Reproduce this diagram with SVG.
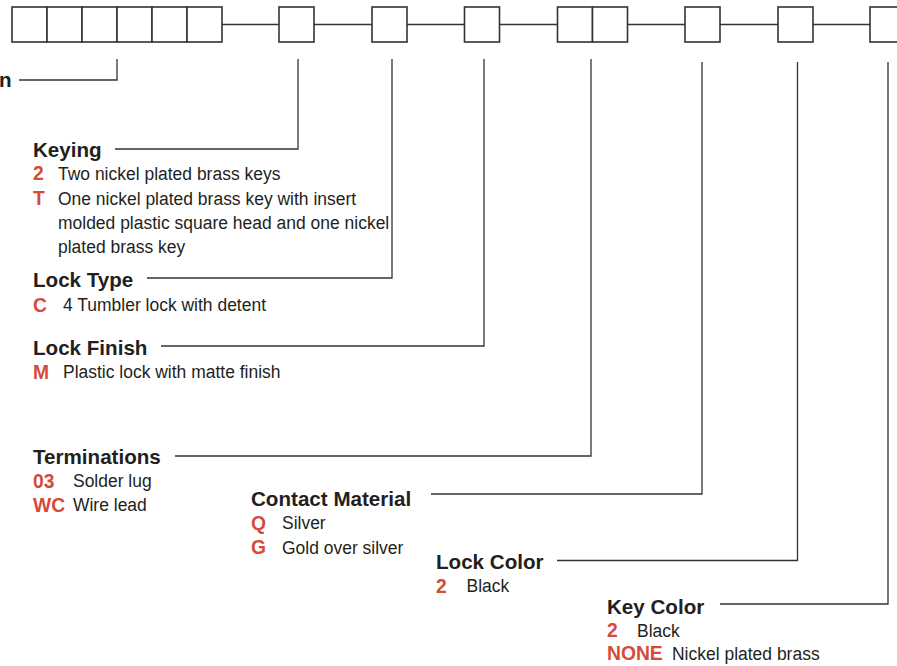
<svg xmlns="http://www.w3.org/2000/svg" width="897" height="666" viewBox="0 0 897 666">
<style>
.box{fill:#fff;stroke:#333;stroke-width:1.6}
.ln{fill:none;stroke:#333;stroke-width:1.3}
.h{font-family:"Liberation Sans",Arial,sans-serif;font-weight:bold;font-size:20.6px;fill:#231f20}
.c{font-family:"Liberation Sans",Arial,sans-serif;font-weight:bold;font-size:19.3px;fill:#d64a3a}
.t{font-family:"Liberation Sans",Arial,sans-serif;font-size:19px;fill:#231f20}
</style>
<rect width="897" height="666" fill="#fff"/>
<g id="connectors">
<path class="ln" d="M222 24.5H279M314 24.5H372M407 24.5H464.5M499.5 24.5H557.5M627 24.5H685M720 24.5H778M813 24.5H870"/>
<path class="ln" d="M117 59V80H19"/>
<path class="ln" d="M298 59V149H115"/>
<path class="ln" d="M392 59V278H147"/>
<path class="ln" d="M484 59V346H161"/>
<path class="ln" d="M591 59V456H175"/>
<path class="ln" d="M702 62V494H431"/>
<path class="ln" d="M797.5 62V560.5H557"/>
<path class="ln" d="M888 62V604H720"/>
</g>
<g id="boxes">
<rect class="box" x="12" y="7" width="35" height="35"/>
<rect class="box" x="47" y="7" width="35" height="35"/>
<rect class="box" x="82" y="7" width="35" height="35"/>
<rect class="box" x="117" y="7" width="35" height="35"/>
<rect class="box" x="152" y="7" width="35" height="35"/>
<rect class="box" x="187" y="7" width="35" height="35"/>
<rect class="box" x="279" y="7" width="35" height="35"/>
<rect class="box" x="372" y="7" width="35" height="35"/>
<rect class="box" x="464.5" y="7" width="35" height="35"/>
<rect class="box" x="557.5" y="7" width="35" height="35"/>
<rect class="box" x="592.5" y="7" width="35" height="35"/>
<rect class="box" x="685" y="7" width="35" height="35"/>
<rect class="box" x="778" y="7" width="35" height="35"/>
<rect class="box" x="870" y="7" width="35" height="35"/>
</g>
<g id="series"><text class="h" x="11.5" y="87" text-anchor="end">n</text></g>
<g id="keying">
<text class="h" x="33" y="157">Keying</text>
<text class="c" x="33" y="180">2</text><text class="t" transform="scale(0.92 1)" x="63.04" y="180">Two nickel plated brass keys</text>
<text class="c" x="33" y="205">T</text><text class="t" transform="scale(0.92 1)" x="63.04" y="205">One nickel plated brass key with insert</text>
<text class="t" transform="scale(0.92 1)" x="63.04" y="229">molded plastic square head and one nickel</text>
<text class="t" transform="scale(0.92 1)" x="63.04" y="253">plated brass key</text>
</g>
<g id="locktype">
<text class="h" x="33" y="287">Lock Type</text>
<text class="c" x="33" y="311.5">C</text><text class="t" transform="scale(0.92 1)" x="68.48" y="311.5">4 Tumbler lock with detent</text>
</g>
<g id="lockfinish">
<text class="h" x="33" y="354.5">Lock Finish</text>
<text class="c" x="33" y="378.5">M</text><text class="t" transform="scale(0.92 1)" x="68.48" y="378.5">Plastic lock with matte finish</text>
</g>
<g id="terminations">
<text class="h" x="33" y="464">Terminations</text>
<text class="c" x="33" y="487.5">03</text><text class="t" transform="scale(0.92 1)" x="79.35" y="487.5">Solder lug</text>
<text class="c" x="33" y="511.5">WC</text><text class="t" transform="scale(0.92 1)" x="79.35" y="511.5">Wire lead</text>
</g>
<g id="contact">
<text class="h" x="251" y="505.5">Contact Material</text>
<text class="c" x="251" y="529.5">Q</text><text class="t" transform="scale(0.92 1)" x="306.52" y="529.5">Silver</text>
<text class="c" x="251" y="554">G</text><text class="t" transform="scale(0.92 1)" x="306.52" y="554">Gold over silver</text>
</g>
<g id="lockcolor">
<text class="h" x="436" y="568.5">Lock Color</text>
<text class="c" x="436" y="592.5">2</text><text class="t" transform="scale(0.92 1)" x="507.07" y="592.5">Black</text>
</g>
<g id="keycolor">
<text class="h" x="607" y="613.5">Key Color</text>
<text class="c" x="607" y="637">2</text><text class="t" transform="scale(0.92 1)" x="692.39" y="637">Black</text>
<text class="c" x="607" y="660">NONE</text><text class="t" transform="scale(0.92 1)" x="730.43" y="660">Nickel plated brass</text>
</g>
</svg>
